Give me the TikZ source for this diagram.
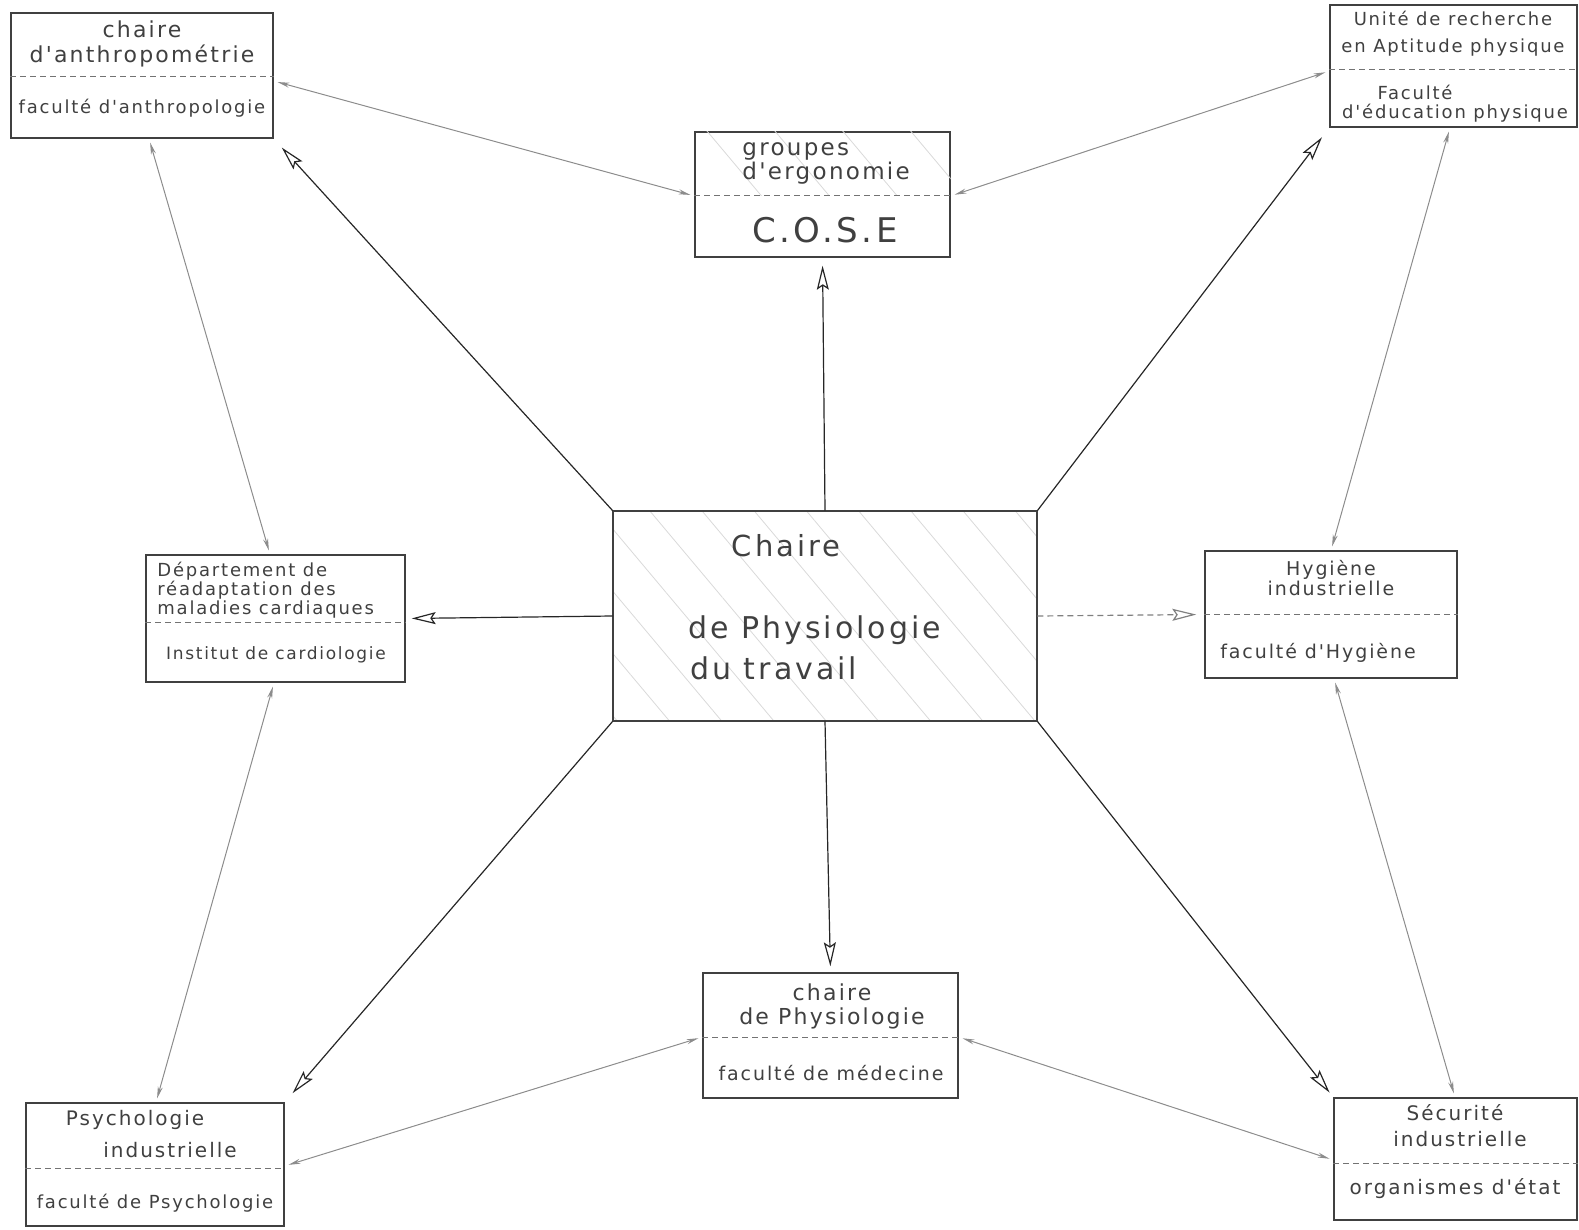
\documentclass[tikz,border=0pt]{standalone}
\usepackage{fontspec}
\newfontfamily\hand[LetterSpace=10]{DejaVu Sans}
\usetikzlibrary{arrows.meta,patterns.meta}

\tikzset{
  box/.style={shape=rectangle,draw=black!75,line width=0.7pt},
  divider/.style={draw=black!55,line width=0.5pt,densely dashed},
  hatch/.style={pattern={Lines[angle=-50,distance=#1,line width=0.4pt]},pattern color=black!15},
  lbl/.style={text=black!75,align=center,inner sep=0pt,font=\hand\fontsize{10}{12.5}\selectfont},
  spoke/.style={draw=black!85,line width=0.6pt,-{Stealth[open,length=12pt,width=6pt,inset=2pt]}},
  link/.style={draw=black!45,line width=0.5pt,{Stealth[length=6pt,width=2.5pt]}-{Stealth[length=6pt,width=2.5pt]}},
}

\begin{document}
\begin{tikzpicture}[x=0.5pt,y=-0.5pt]
\useasboundingbox (0,0) rectangle (1579,1230);

% boxes
\node[box,hatch=20pt,minimum width=212pt,minimum height=105pt] (chaire) at (825,616) {};
\node[box,minimum width=131pt,minimum height=62.5pt] (anthro) at (142,75.5) {};
\node[box,minimum width=123.5pt,minimum height=61pt] (aptitude) at (1453.5,66) {};
\node[box,minimum width=127.5pt,minimum height=62.5pt] (cose) at (822.5,194.5) {};
\node[box,minimum width=129.5pt,minimum height=63.5pt] (cardio) at (275.5,618.5) {};
\node[box,minimum width=126pt,minimum height=63.5pt] (hygiene) at (1331,614.5) {};
\node[box,minimum width=127.5pt,minimum height=62.5pt] (medecine) at (830.5,1035.5) {};
\node[box,minimum width=129pt,minimum height=61.5pt] (psycho) at (155,1164.5) {};
\node[box,minimum width=121.5pt,minimum height=61pt] (securite) at (1455.5,1159) {};

\fill[hatch=26pt] (cose.north west) rectangle (cose.east |- 0,196);

% dividers
\draw[divider] (anthro.west |- 0,77) -- (anthro.east |- 0,77);
\draw[divider] (aptitude.west |- 0,70) -- (aptitude.east |- 0,70);
\draw[divider] (cose.west |- 0,196) -- (cose.east |- 0,196);
\draw[divider] (cardio.west |- 0,622) -- (cardio.east |- 0,622);
\draw[divider] (hygiene.west |- 0,614) -- (hygiene.east |- 0,614);
\draw[divider] (medecine.west |- 0,1037) -- (medecine.east |- 0,1037);
\draw[divider] (psycho.west |- 0,1168) -- (psycho.east |- 0,1168);
\draw[divider] (securite.west |- 0,1163) -- (securite.east |- 0,1163);

% texts
\node[lbl,font=\hand\fontsize{11}{12.5}\selectfont] (anthroA) at (142,44) {chaire\\d'anthropométrie};
\node[lbl,font=\hand\fontsize{9}{11}\selectfont] (anthroB) at (142,108) {faculté d'anthropologie};
\node[lbl,font=\hand\fontsize{9}{13.5}\selectfont] (aptitudeA) at (1453,34) {Unité de recherche\\en Aptitude physique};
\node[lbl,font=\hand\fontsize{9}{11}\selectfont] (aptitudeB) at (1415,92) {Faculté};
\node[lbl,font=\hand\fontsize{9}{11}\selectfont] (aptitudeC) at (1455,113) {d'éducation physique};
\node[lbl,align=left,anchor=west,font=\hand\fontsize{11.5}{12}\selectfont] (coseA) at (742,163) {groupes\\d'ergonomie};
\node[lbl,font=\hand\fontsize{17}{20}\selectfont] (coseB) at (825,230) {C.O.S.E};
\node[lbl,align=left,anchor=west,font=\hand\fontsize{9}{9.5}\selectfont] (cardioA) at (157,590) {Département de\\réadaptation des\\maladies cardiaques};
\node[lbl,font=\hand\fontsize{8.5}{11}\selectfont] (cardioB) at (276,655) {Institut de cardiologie};
\node[lbl,font=\hand\fontsize{14.5}{18}\selectfont] (chaireA) at (786,546) {Chaire};
\node[lbl,anchor=west,font=\hand\fontsize{15}{18}\selectfont] (chaireB) at (688,630) {de Physiologie};
\node[lbl,anchor=west,font=\hand\fontsize{15}{18}\selectfont] (chaireC) at (690,668) {du travail};
\node[lbl,font=\hand\fontsize{9.5}{9}\selectfont] (hygieneA) at (1331,578) {Hygiène\\industrielle};
\node[lbl,font=\hand\fontsize{9.5}{11}\selectfont] (hygieneB) at (1318,653) {faculté d'Hygiène};
\node[lbl,font=\hand\fontsize{11}{12}\selectfont] (medecineA) at (832,1006) {chaire\\de Physiologie};
\node[lbl,font=\hand\fontsize{9.5}{11}\selectfont] (medecineB) at (831,1073) {faculté de médecine};
\node[lbl,font=\hand\fontsize{10}{11}\selectfont] (psychoA) at (135,1120) {Psychologie};
\node[lbl,font=\hand\fontsize{10}{11}\selectfont] (psychoB) at (170,1150) {industrielle};
\node[lbl,font=\hand\fontsize{9}{11}\selectfont] (psychoC) at (155,1203) {faculté de Psychologie};
\node[lbl,font=\hand\fontsize{10}{11}\selectfont] (securiteA) at (1455,1113) {Sécurité};
\node[lbl,font=\hand\fontsize{10}{11}\selectfont] (securiteB) at (1460,1139) {industrielle};
\node[lbl,font=\hand\fontsize{10}{11}\selectfont] (securiteC) at (1455,1189) {organismes d'état};

% spokes from the centre
\draw[spoke,shorten >=6pt] (chaire.north west) -- (anthro.south east);
\draw[spoke,shorten >=4pt] (chaire.north) -- (cose.south);
\draw[spoke,shorten >=6pt] (chaire.north east) -- (aptitude.south west);
\draw[spoke,shorten >=3pt] (chaire.west) -- (cardio.east);
\draw[spoke,draw=black!50,densely dashed,shorten >=4pt] (chaire.east) -- (hygiene.west);
\draw[spoke,shorten >=6pt] (chaire.south west) -- (psycho.north east);
\draw[spoke,shorten >=3pt] (chaire.south) -- (medecine.north);
\draw[spoke,shorten >=3pt] (chaire.south east) -- (securite.north west);

% links between the outer boxes
\draw[link,shorten <=2pt,shorten >=2pt] (anthro.east |- 0,81) -- (cose.west |- 0,196);
\draw[link,shorten <=2pt,shorten >=2pt] (cose.east |- 0,196) -- (aptitude.west |- 0,71);
\draw[link,shorten <=2pt,shorten >=2pt] (anthro.south -| 149,0) -- (cardio.north -| 270,0);
\draw[link,shorten <=2pt,shorten >=2pt] (aptitude.south -| 1450,0) -- (hygiene.north -| 1331,0);
\draw[link,shorten <=2pt,shorten >=2pt] (cardio.south -| 274,0) -- (psycho.north -| 156,0);
\draw[link,shorten <=2pt,shorten >=2pt] (hygiene.south -| 1334,0) -- (securite.north -| 1455,0);
\draw[link,shorten <=2pt,shorten >=2pt] (psycho.east |- 0,1166) -- (medecine.west |- 0,1037);
\draw[link,shorten <=2pt,shorten >=2pt] (medecine.east |- 0,1037) -- (securite.west |- 0,1160);
\end{tikzpicture}
\end{document}
